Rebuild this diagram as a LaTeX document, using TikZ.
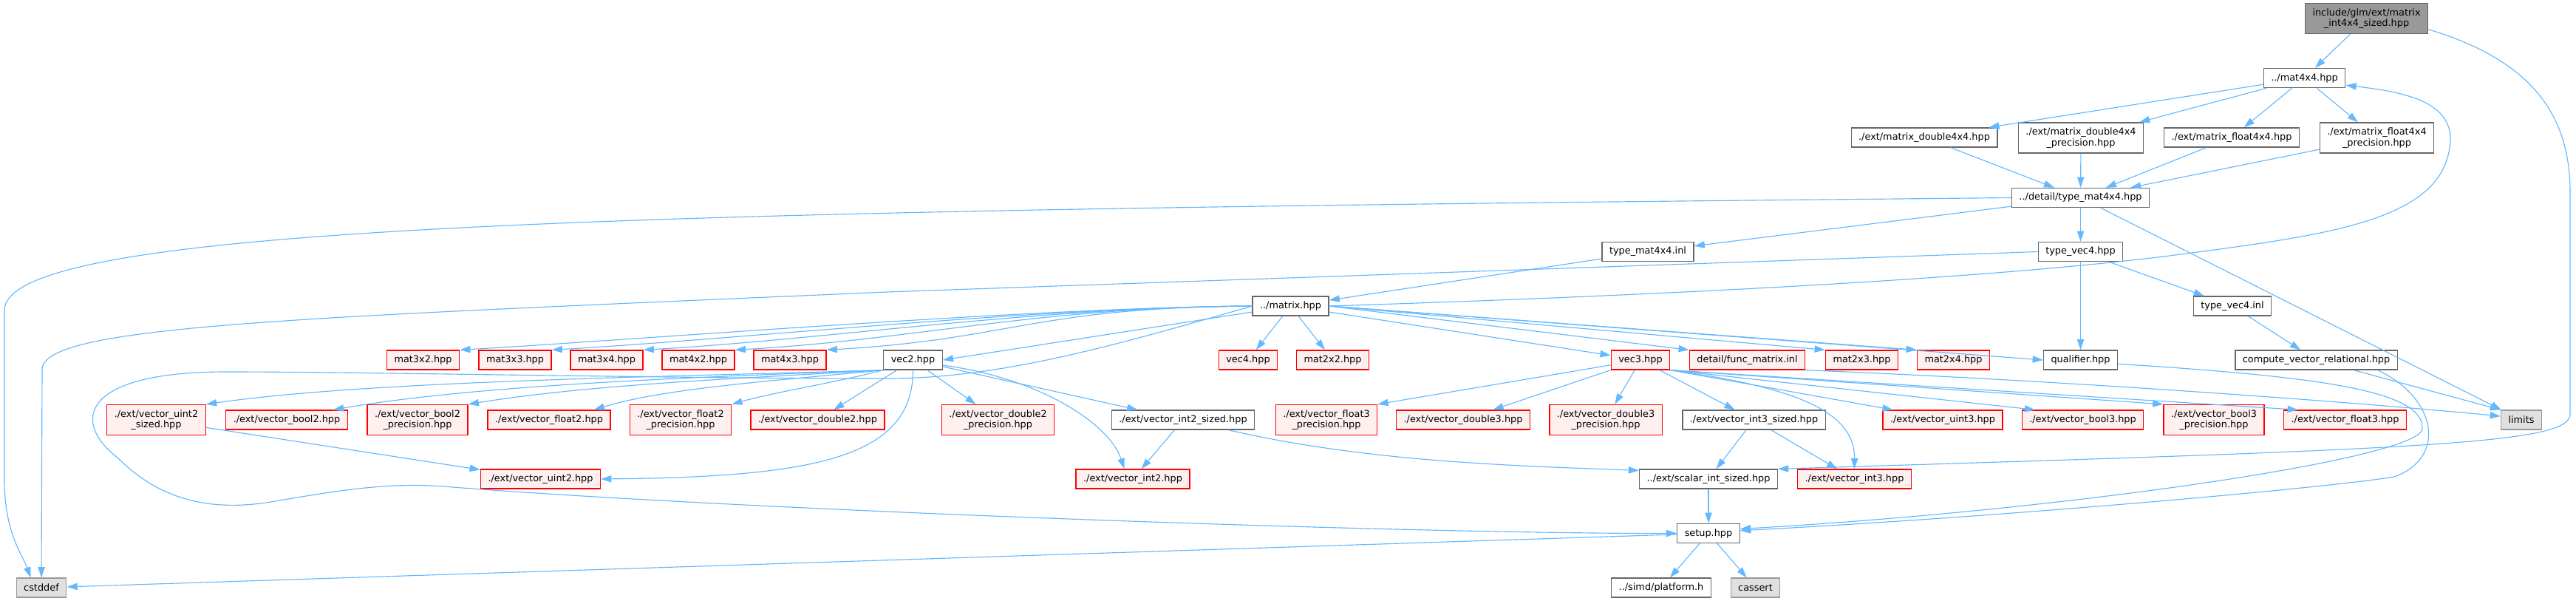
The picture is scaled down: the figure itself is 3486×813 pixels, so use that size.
\documentclass[tikz,border=0pt]{standalone}
\usepackage{fontspec}
\setmainfont{DejaVu Sans}
\usetikzlibrary{arrows.meta}
\definecolor{edgeblue}{HTML}{63B8FF}
\definecolor{boxgray}{HTML}{666666}
\definecolor{sysgray}{HTML}{999999}
\definecolor{sysfill}{HTML}{E0E0E0}
\definecolor{rootfill}{HTML}{999999}
\definecolor{pinkfill}{HTML}{FFF0F0}

\begin{document}
\begin{tikzpicture}[
    x=0.7pt, y=-0.7pt,
    file/.style={rectangle, draw=boxgray, fill=white, line width=0.9pt,
                 font=\fontsize{9}{10}\selectfont, align=center,
                 inner xsep=7pt, inner ysep=0pt, minimum height=18.2pt},
    tall/.style={minimum height=28.7pt},
    missing/.style={file, draw=red, fill=pinkfill},
    sysfile/.style={file, draw=sysgray, fill=sysfill},
    root/.style={file, fill=rootfill},
    dep/.style={-{Triangle[length=10pt,width=6.5pt]}, draw=edgeblue,
                line width=0.8pt}
]
  \useasboundingbox (0,0) rectangle (3486,813);

  % top of the graph
  \node[root, tall] (main) at (3202.5,25) {include/glm/ext/matrix\\\_int4x4\_sized.hpp};
  \node[file] (mat44) at (3118.5,105.5) {../mat4x4.hpp};
  \node[file] (mxd44) at (2604,186) {./ext/matrix\_double4x4.hpp};
  \node[file, tall] (mxd44p) at (2816,186.5) {./ext/matrix\_double4x4\\\_precision.hpp};
  \node[file] (mxf44) at (3020,186) {./ext/matrix\_float4x4.hpp};
  \node[file, tall] (mxf44p) at (3216.5,186.5) {./ext/matrix\_float4x4\\\_precision.hpp};
  \node[file] (tmat44) at (2815.5,267.5) {../detail/type\_mat4x4.hpp};
  \node[file] (tmat44inl) at (2230,340.5) {type\_mat4x4.inl};
  \node[file] (tvec4) at (2815.5,340.5) {type\_vec4.hpp};
  \node[file] (matrix) at (1746.5,414) {../matrix.hpp};
  \node[file] (tvec4inl) at (3021,414) {type\_vec4.inl};

  % row under matrix.hpp
  \node[missing] (m32) at (572.5,487) {mat3x2.hpp};
  \node[missing] (m33) at (697,487) {mat3x3.hpp};
  \node[missing] (m34) at (821,487) {mat3x4.hpp};
  \node[missing] (m42) at (945,487) {mat4x2.hpp};
  \node[missing] (m43) at (1069,487) {mat4x3.hpp};
  \node[file] (vec2) at (1235.5,487) {vec2.hpp};
  \node[missing] (vec4) at (1689,487) {vec4.hpp};
  \node[missing] (m22) at (1803.5,487) {mat2x2.hpp};
  \node[missing] (vec3) at (2220,487) {vec3.hpp};
  \node[missing] (funcmat) at (2364.5,487) {detail/func\_matrix.inl};
  \node[missing] (m23) at (2519.5,487) {mat2x3.hpp};
  \node[missing] (m24) at (2643.5,487) {mat2x4.hpp};
  \node[file] (qualifier) at (2815.5,487) {qualifier.hpp};
  \node[file] (compute) at (3134.5,487) {compute\_vector\_relational.hpp};

  % vector extensions
  \node[missing, tall] (uint2s) at (211.5,568) {./ext/vector\_uint2\\\_sized.hpp};
  \node[missing] (bool2) at (388,568) {./ext/vector\_bool2.hpp};
  \node[missing, tall] (bool2p) at (565,568) {./ext/vector\_bool2\\\_precision.hpp};
  \node[missing] (float2) at (743,568) {./ext/vector\_float2.hpp};
  \node[missing, tall] (float2p) at (921,568) {./ext/vector\_float2\\\_precision.hpp};
  \node[missing] (double2) at (1106.5,568) {./ext/vector\_double2.hpp};
  \node[missing, tall] (double2p) at (1350.5,568) {./ext/vector\_double2\\\_precision.hpp};
  \node[file] (int2s) at (1601,568) {./ext/vector\_int2\_sized.hpp};
  \node[missing, tall] (float3p) at (1795,568) {./ext/vector\_float3\\\_precision.hpp};
  \node[missing] (double3) at (1980,568) {./ext/vector\_double3.hpp};
  \node[missing, tall] (double3p) at (2173,568) {./ext/vector\_double3\\\_precision.hpp};
  \node[file] (int3s) at (2373.5,568) {./ext/vector\_int3\_sized.hpp};
  \node[missing] (uint3) at (2629,568) {./ext/vector\_uint3.hpp};
  \node[missing] (bool3) at (2818.5,568) {./ext/vector\_bool3.hpp};
  \node[missing, tall] (bool3p) at (2996,568) {./ext/vector\_bool3\\\_precision.hpp};
  \node[missing] (float3) at (3173.5,568) {./ext/vector\_float3.hpp};
  \node[sysfile] (limits) at (3412,568) {limits};

  % bottom rows
  \node[missing] (uint2) at (731.5,648) {./ext/vector\_uint2.hpp};
  \node[missing] (int2) at (1533,648) {./ext/vector\_int2.hpp};
  \node[file] (scalar) at (2312,648) {../ext/scalar\_int\_sized.hpp};
  \node[missing] (int3) at (2509.5,648) {./ext/vector\_int3.hpp};
  \node[file] (setup) at (2312,721.5) {setup.hpp};
  \node[sysfile] (cstddef) at (56,795) {cstddef};
  \node[file] (platform) at (2248,795) {../simd/platform.h};
  \node[sysfile] (cassert) at (2375.5,795) {cassert};

  % edges from the top part
  \draw[dep] (main) -- (mat44);
  \draw[dep] (main.-10) .. controls (3420,80) and (3478,150) .. (3478,260)
    -- (3478,560) .. controls (3478,600) and (3300,607) .. (scalar.north east);
  \draw[dep] (mat44) -- (mxd44);
  \draw[dep] (mat44) -- (mxd44p);
  \draw[dep] (mat44) -- (mxf44);
  \draw[dep] (mat44) -- (mxf44p);
  \draw[dep] (mxd44) -- (tmat44);
  \draw[dep] (mxd44p) -- (tmat44);
  \draw[dep] (mxf44) -- (tmat44);
  \draw[dep] (mxf44p) -- (tmat44);
  \draw[dep] (tmat44.west) .. controls (900,285) and (6,300) .. (6,420)
    -- (6,650) .. controls (6,720) and (30,750) .. ([xshift=-10pt]cstddef.north);
  \draw[dep] (tmat44) -- (tmat44inl);
  \draw[dep] (tmat44) -- (tvec4);
  \draw[dep] (tmat44) -- (limits);
  \draw[dep] (tmat44inl) -- (matrix);
  \draw[dep] (tvec4.west) -- (1200,395) .. controls (400,430) and (57,440) .. (57,500)
    -- (cstddef.north);
  \draw[dep] (tvec4) -- (qualifier);
  \draw[dep] (tvec4) -- (tvec4inl);
  \draw[dep] (tvec4inl) -- (compute);

  % edges from matrix.hpp
  \draw[dep] (matrix.east) .. controls (2300,398) and (2700,375) .. (2928,347)
    .. controls (3150,318) and (3300,300) .. (3315,200)
    .. controls (3325,140) and (3260,125) .. (mat44.-10);
  \draw[dep] (matrix.west) .. controls (1400,416) and (872,459) .. (m32.north east);
  \draw[dep] (matrix.west) .. controls (1400,416) and (997,459) .. (m33.north east);
  \draw[dep] (matrix.west) .. controls (1400,416) and (1121,459) .. (m34.north east);
  \draw[dep] (matrix.west) .. controls (1400,416) and (1245,459) .. (m42.north east);
  \draw[dep] (matrix.west) .. controls (1400,416) and (1369,459) .. (m43.north east);
  \draw[dep] (matrix) -- (vec2.east);
  \draw[dep] (matrix) -- (vec4);
  \draw[dep] (matrix) -- (m22);
  \draw[dep] (matrix) -- (vec3);
  \draw[dep] (matrix.east) -- (funcmat.north west);
  \draw[dep] (matrix.east) -- (m23.north west);
  \draw[dep] (matrix.east) -- (m24.north west);
  \draw[dep] (matrix.east) -- (qualifier.west);
  \draw[dep] (matrix.west) .. controls (1500,470) and (1350,512) .. (1200,512)
    .. controls (900,512) and (500,503) .. (306,503)
    .. controls (110,503) and (95,570) .. (160,620)
    .. controls (220,680) and (290,690) .. (360,680)
    .. controls (450,665) and (520,652) .. (600,658)
    .. controls (1000,690) and (1900,722) .. (setup.west);

  % vec2.hpp
  \draw[dep] (vec2.south west) .. controls (900,510) and (500,515) .. (uint2s.north east);
  \draw[dep] (vec2.south west) .. controls (950,510) and (650,520) .. ([xshift=-14pt]bool2.north east);
  \draw[dep] (vec2.south west) .. controls (1000,512) and (800,520) .. (bool2p.north east);
  \draw[dep] (vec2.south west) .. controls (1050,515) and (900,525) .. ([xshift=-16pt]float2.north east);
  \draw[dep] (vec2.south west) .. controls (1120,520) and (1050,530) .. (float2p.north east);
  \draw[dep] (vec2) -- (double2);
  \draw[dep] (vec2) -- (double2p);
  \draw[dep] (vec2) -- (int2s);
  \draw[dep] (vec2.-10) .. controls (1400,510) and (1500,570) .. ([xshift=-8pt]int2.north);
  \draw[dep] (vec2.south) .. controls (1236,620) and (1100,645) .. (uint2.east);
  \draw[dep] (uint2s) -- (uint2);
  \draw[dep] (int2s) -- (int2);
  \draw[dep] ([xshift=43pt]int2s.south) .. controls (1850,625) and (2050,630) .. (scalar.173);

  % vec3.hpp
  \draw[dep] (vec3) -- (float3p.north east);
  \draw[dep] (vec3) -- (double3);
  \draw[dep] (vec3) -- (double3p);
  \draw[dep] (vec3) -- (int3s);
  \draw[dep] (vec3.south east) .. controls (2440,525) and (2510,560) .. (int3.north);
  \draw[dep] (vec3.south east) -- ([xshift=10pt]uint3.north west);
  \draw[dep] (vec3.south east) -- ([xshift=13pt]bool3.north west);
  \draw[dep] (vec3.south east) -- (bool3p.north west);
  \draw[dep] (vec3.south east) -- ([xshift=14pt]float3.north west);
  \draw[dep] (int3s) -- (scalar);
  \draw[dep] (int3s) -- (int3);

  % towards limits and setup.hpp
  \draw[dep] (funcmat.south east) .. controls (2800,515) and (3200,545) .. (limits.170);
  \draw[dep] (compute) -- (limits.north west);
  \draw[dep] (qualifier.-6) .. controls (3150,510) and (3280,530) .. (3278,580)
    .. controls (3276,620) and (2800,690) .. (setup.8);
  \draw[dep] ([xshift=-19pt]compute.south east) .. controls (3300,540) and (3310,620) .. (3240,645)
    .. controls (3150,660) and (2700,700) .. (setup.5);
  \draw[dep] (scalar) -- (setup);
  \draw[dep] (setup) -- (cstddef);
  \draw[dep] (setup) -- (platform);
  \draw[dep] (setup) -- (cassert);
\end{tikzpicture}
\end{document}
